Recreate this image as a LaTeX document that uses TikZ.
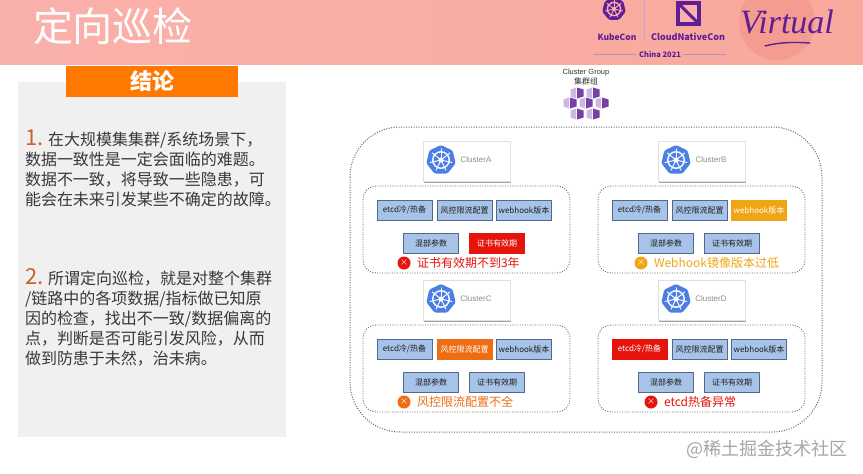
\documentclass[tikz,border=0pt]{standalone}
\usepackage{fontspec}
\setmainfont{Noto Sans CJK SC}
\newfontfamily\latinsans{Liberation Sans}
\newfontfamily\scriptish{Liberation Serif}
\usepackage{tikz}
\usetikzlibrary{shadows}
\definecolor{bannerpink}{HTML}{FAB0AB}
\definecolor{bannersalmon}{HTML}{F9A99C}
\definecolor{bannerdisc}{HTML}{F59C90}
\definecolor{confpurple}{HTML}{5F1E96}
\definecolor{grouplilac}{HTML}{CDB8E2}
\definecolor{helmblue}{HTML}{4C7FE3}
\definecolor{boxblue}{HTML}{A8C3E8}
\definecolor{boxedge}{HTML}{4F6A8C}
\definecolor{alertred}{HTML}{E5140C}
\definecolor{alertamber}{HTML}{F0A514}
\definecolor{alertorange}{HTML}{EE6C12}
\definecolor{leadbrown}{HTML}{C8622A}
\newcommand{\helmwheel}[5]{% x, y, radius, fill, ink
	\begin{scope}[shift={(#1,#2)}]
		\fill[#4, rounded corners=1.5pt] (-90:#3) -- (-38.57:#3) -- (12.86:#3) -- (64.29:#3) -- (115.71:#3) -- (167.14:#3) -- (218.57:#3) -- cycle;
		\draw[#5, line width=1.4pt] (0,0) circle (0.55*#3);
		\fill[#5] (0,0) circle (0.17*#3);
		\foreach \a in {-90,-38.57,12.86,64.29,115.71,167.14,218.57} {\draw[#5, line width=0.9pt, line cap=round] (0,0) -- (\a:0.75*#3);}
	\end{scope}
}
\begin{document}
\begin{tikzpicture}[x=1pt, y=-1pt, every node/.style={inner sep=0pt, outer sep=0pt},
	dotline/.style={draw=black!60, dash pattern=on 1pt off 1.5pt, line width=1pt},
	stepcard/.style={draw=black!12, fill=white, minimum width=87pt, minimum height=40pt, drop shadow={shadow xshift=1.3pt, shadow yshift=-1.5pt, opacity=0.6, fill=black!60}},
	okbox/.style={draw=boxedge, fill=boxblue, line width=0.8pt, text=black!88, font=\fontsize{8}{8}\selectfont, minimum width=55pt, minimum height=20pt},
	redbox/.style={okbox, draw=alertred, fill=alertred, text=white},
	ambbox/.style={okbox, draw=alertamber, fill=alertamber, text=white},
	orgbox/.style={okbox, draw=alertorange, fill=alertorange, text=white},
	para/.style={anchor=north west, align=left, text=black!78, font=\fontsize{16}{20}\selectfont}]
	\useasboundingbox (0,0) rectangle (863,474);
	\fill[white] (0,0) rectangle (863,474);
	% banner
	\shade[left color=bannerpink, right color=bannersalmon] (0,0) rectangle (863,64);
	\begin{scope}
		\clip (0,0) rectangle (863,64);
		\fill[bannerdisc] (777,22) circle (38);
	\end{scope}
	\node[text=white, font=\fontsize{40}{40}\selectfont] (title) at (113,26) {定向巡检};
	\helmwheel{614}{9}{12}{confpurple}{bannerpink}
	\node[text=confpurple, font=\fontsize{8.5}{8.5}\selectfont\bfseries] (kubecon) at (617,37) {KubeCon};
	\draw[confpurple!40] (644,0) -- (644,41);
	\fill[confpurple] (676,1) rectangle (701,26);
	\fill[bannerpink] (680,5) rectangle (697,22);
	\draw[confpurple, line width=3pt] (680,5) -- (697,22);
	\node[text=confpurple, font=\fontsize{9}{9}\selectfont\bfseries] (cncf) at (688,37) {CloudNativeCon};
	\node[text=confpurple, font=\fontsize{7.5}{7.5}\selectfont\bfseries] (china) at (660,54) {China 2021};
	\draw[confpurple!50] (594,54) -- (636,54) (683,54) -- (726,54);
	\node[text=confpurple, font=\scriptish\itshape\fontsize{34}{34}\selectfont] (virtual) at (787,22) {Virtual};
	\draw[confpurple, line width=1.4pt, line cap=round] (765,46) .. controls (780,42) and (795,42) .. (810,43);
	% left column
	\fill[black!6] (18,82) rectangle (286,437);
	\node[fill=orange!95!red, minimum width=172pt, minimum height=31pt, text=white, font=\fontsize{22}{22}\selectfont\bfseries] (verdict) at (152,81.5) {结论};
	\node[para] (first) at (25,130) {{\fontsize{22}{20}\selectfont\color{leadbrown}1.} 在大规模集集群/系统场景下，\\
		数据一致性是一定会面临的难题。\\
		数据不一致，将导致一些隐患，可\\
		能会在未来引发某些不确定的故障。};
	\node[para] (second) at (25,268.5) {{\fontsize{22}{20}\selectfont\color{leadbrown}2.} 所谓定向巡检，就是对整个集群\\
		/链路中的各项数据/指标做已知原\\
		因的检查，找出不一致/数据偏离的\\
		点，判断是否可能引发风险，从而\\
		做到防患于未然，治未病。};
	% cluster group
	\node[text=black!80, font=\latinsans\fontsize{7.5}{7.5}\selectfont] (group) at (586,73) {Cluster Group};
	\node[text=black!80, font=\fontsize{8}{8}\selectfont] (groupcn) at (586,81) {集群组};
	\foreach \hx/\hy in {577/93,593/93,570/103,586/103,602/103,577/114,593/114} {
		\begin{scope}[shift={(\hx,\hy)}]
			\fill[grouplilac] (-6.5,-3.5) -- (-0.8,-5.5) -- (-0.8,5.5) -- (-6.5,3.5) -- cycle;
			\fill[confpurple!85] (0,-5.5) -- (6.5,-3.5) -- (6.5,3.5) -- (0,5.5) -- cycle;
		\end{scope}
	}
	\draw[dotline, rounded corners=50pt] (350,127) rectangle (822,432);
	% clusters
	\foreach \nm/\dx/\dy/\sa/\sb/\sc/\sd/\se/\tone/\ix/\msg in {
		A/0/0/okbox/okbox/okbox/okbox/redbox/alertred/404/证书有效期不到3年,
		B/235/0/okbox/okbox/ambbox/okbox/okbox/alertamber/406/Webhook镜像版本过低,
		C/0/139/okbox/orgbox/okbox/okbox/okbox/alertorange/404/风控限流配置不全,
		D/235/139/redbox/okbox/okbox/okbox/okbox/alertred/416/etcd热备异常} {
		\begin{scope}[shift={(\dx,\dy)}]
			\node[stepcard] (card\nm) at (466.5,161) {};
			\helmwheel{441}{160}{15}{helmblue}{white}
			\node[text=black!45, font=\latinsans\fontsize{8}{8}\selectfont] (name\nm) at (476,160) {Cluster\nm};
			\draw[dotline, line width=0.8pt, rounded corners=13pt] (363,186) rectangle (570,273);
			\node[\sa] (etcd\nm) at (404.5,210) {etcd冷/热备};
			\node[\sb] (limit\nm) at (464.5,210) {风控限流配置};
			\node[\sc] (hook\nm) at (524,210) {webhook版本};
			\node[\sd] (mix\nm) at (431,243) {混部参数};
			\node[\se] (cert\nm) at (497,243) {证书有效期};
			\node[circle, fill=\tone, minimum size=13pt, text=white, font=\fontsize{8}{8}\selectfont] (mark\nm) at (\ix,263) {×};
			\node[anchor=west, text=\tone, font=\fontsize{12}{12}\selectfont] (note\nm) at (\ix+13,263) {\msg};
		\end{scope}
	}
	\node[text=black!35, font=\fontsize{18}{18}\selectfont] (mark) at (767,449) {@稀土掘金技术社区};
\end{tikzpicture}
\end{document}
